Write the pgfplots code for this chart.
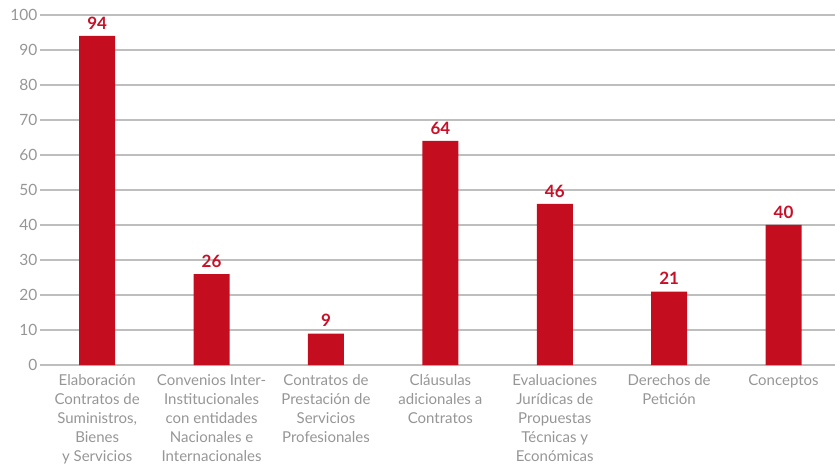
\documentclass[border=0pt]{standalone}
\usepackage{fontspec}
\setmainfont{Lato}
\usepackage{pgfplots}
\pgfplotsset{compat=1.18}
\definecolor{barred}{RGB}{196,14,32}
\definecolor{lblred}{RGB}{200,16,40}
\definecolor{txtgray}{RGB}{150,150,150}
\definecolor{gridgray}{RGB}{190,190,190}
\begin{document}
\begin{tikzpicture}
\useasboundingbox (-40pt,-109pt) rectangle (795pt,365pt);
\begin{axis}[
  at={(0,0)}, anchor=south west,
  scale only axis,
  width=795pt, height=350pt,
  xmin=-0.5, xmax=6.45,
  ymin=0, ymax=100,
  ytick={0,10,...,100},
  xtick={0,1,2,3,4,5,6},
  xticklabels={
    {Elaboración\\Contratos de\\Suministros,\\Bienes\\y Servicios},
    {Convenios Inter-\\Institucionales\\con entidades\\Nacionales e\\Internacionales},
    {Contratos de\\Prestación de\\Servicios\\Profesionales},
    {Cláusulas\\adicionales a\\Contratos},
    {Evaluaciones\\Jurídicas de\\Propuestas\\Técnicas y\\Económicas},
    {Derechos de\\Petición},
    {Conceptos}},
  xticklabel style={align=center, font=\fontsize{15}{19}\selectfont, text=txtgray, yshift=-6pt},
  yticklabel style={font=\fontsize{15.5}{18}\selectfont, text=txtgray, xshift=1pt},
  /pgf/number format/assume math mode=true,
  axis line style={draw=none},
  major tick length=0pt,
  ymajorgrids,
  grid style={gridgray, line width=1.2pt},
  ybar, bar width=36pt,
  nodes near coords,
  nodes near coords style={font=\fontsize{17}{20}\selectfont\bfseries, text=lblred, yshift=3pt},
  clip=false,
]
\addplot[fill=barred, draw=none] coordinates {(0,94) (1,26) (2,9) (3,64) (4,46) (5,21) (6,40)};
\end{axis}
\end{tikzpicture}
\end{document}
